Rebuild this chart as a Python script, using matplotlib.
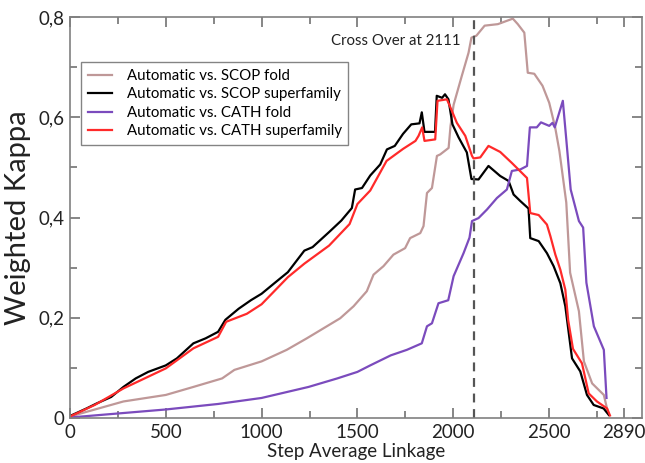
import matplotlib
matplotlib.use("Agg")
import matplotlib.pyplot as plt
from matplotlib.ticker import MultipleLocator, FixedLocator, FuncFormatter

plt.rcParams['font.family'] = ['Lato', 'DejaVu Sans']

# ---- data ----
scop_fold_x = [0, 279, 500, 644, 794, 858, 1000, 1131, 1236, 1323, 1410, 1480, 1549, 1584,
               1636, 1688, 1749, 1775, 1828, 1845, 1863, 1889, 1915, 1932, 1976, 1986, 2002,
               2045, 2080, 2095, 2121, 2164, 2233, 2311, 2337, 2371, 2389, 2423, 2466, 2501,
               2532, 2554, 2590, 2610, 2656, 2682, 2725, 2786, 2808]
scop_fold_y = [0.003, 0.033, 0.046, 0.062, 0.079, 0.096, 0.113, 0.136, 0.159, 0.179, 0.199,
               0.223, 0.253, 0.286, 0.303, 0.326, 0.339, 0.359, 0.369, 0.383, 0.449, 0.459,
               0.523, 0.526, 0.539, 0.583, 0.625, 0.683, 0.729, 0.759, 0.763, 0.783, 0.786,
               0.797, 0.786, 0.769, 0.689, 0.687, 0.663, 0.629, 0.58, 0.533, 0.43, 0.29,
               0.213, 0.113, 0.069, 0.046, 0.01]

scop_sf_x = [0, 86, 139, 215, 279, 343, 408, 500, 558, 644, 708, 773, 811, 880, 944, 1000,
             1073, 1137, 1223, 1266, 1352, 1416, 1471, 1488, 1524, 1567, 1619, 1654, 1695,
             1738, 1781, 1824, 1836, 1850, 1905, 1914, 1942, 1957, 1975, 1996, 2028, 2071,
             2095, 2132, 2184, 2245, 2289, 2315, 2350, 2393, 2402, 2446, 2489, 2524, 2559,
             2585, 2620, 2663, 2698, 2733, 2785, 2812]
scop_sf_y = [0.004, 0.019, 0.029, 0.042, 0.062, 0.079, 0.092, 0.105, 0.119, 0.149, 0.159,
             0.172, 0.196, 0.218, 0.235, 0.248, 0.271, 0.291, 0.334, 0.341, 0.371, 0.394,
             0.419, 0.456, 0.459, 0.484, 0.506, 0.536, 0.543, 0.567, 0.586, 0.588, 0.610,
             0.571, 0.571, 0.643, 0.639, 0.646, 0.636, 0.586, 0.56, 0.53, 0.477, 0.476,
             0.503, 0.483, 0.473, 0.446, 0.433, 0.418, 0.359, 0.353, 0.329, 0.303, 0.269,
             0.223, 0.119, 0.093, 0.046, 0.026, 0.019, 0.006]

cath_fold_x = [0, 500, 773, 1000, 1245, 1395, 1500, 1567, 1674, 1758, 1836, 1863, 1889, 1923,
               1974, 2002, 2054, 2085, 2098, 2132, 2176, 2228, 2280, 2306, 2350, 2385, 2400,
               2436, 2458, 2501, 2518, 2530, 2572, 2590, 2613, 2656, 2678, 2695, 2734, 2786,
               2800]
cath_fold_y = [0.001, 0.017, 0.028, 0.040, 0.062, 0.079, 0.092, 0.105, 0.125, 0.136, 0.149,
               0.183, 0.189, 0.229, 0.235, 0.283, 0.329, 0.36, 0.393, 0.399, 0.416, 0.439,
               0.456, 0.493, 0.496, 0.503, 0.58, 0.58, 0.59, 0.583, 0.589, 0.58, 0.633,
               0.556, 0.456, 0.393, 0.38, 0.27, 0.183, 0.136, 0.04]

cath_sf_x = [0, 129, 279, 500, 644, 773, 815, 923, 1000, 1137, 1223, 1352, 1459, 1500, 1567,
             1652, 1738, 1803, 1819, 1838, 1850, 1906, 1918, 1967, 1993, 2019, 2063, 2098,
             2106, 2141, 2184, 2245, 2306, 2385, 2402, 2446, 2489, 2507, 2533, 2559, 2585,
             2600, 2625, 2672, 2707, 2750, 2803, 2818]
cath_sf_y = [0.003, 0.026, 0.059, 0.099, 0.139, 0.162, 0.192, 0.208, 0.227, 0.281, 0.308,
             0.344, 0.387, 0.427, 0.454, 0.513, 0.537, 0.553, 0.563, 0.58, 0.553, 0.556,
             0.633, 0.636, 0.613, 0.589, 0.563, 0.523, 0.518, 0.52, 0.543, 0.531, 0.509,
             0.479, 0.409, 0.405, 0.386, 0.363, 0.326, 0.296, 0.256, 0.195, 0.138, 0.109,
             0.049, 0.033, 0.019, 0.005]

labels = ["Automatic vs. SCOP fold", "Automatic vs. SCOP superfamily",
          "Automatic vs. CATH fold", "Automatic vs. CATH superfamily"]
colors = ["#bf9898", "#000000", "#7b4bbd", "#ff2a2a"]

crossover = 2111
x_major = [0, 500, 1000, 1500, 2000, 2500, 2890]
x_labels = ["0", "500", "1000", "1500", "2000", "2500", "2890"]

# ---- figure ----
fig = plt.figure(figsize=(6.45, 4.63), dpi=100)
ax = fig.add_axes([0.1085, 0.0972, 0.8868, 0.8658])

series = [(scop_fold_x, scop_fold_y), (scop_sf_x, scop_sf_y),
          (cath_fold_x, cath_fold_y), (cath_sf_x, cath_sf_y)]
for (xs, ys), lab, col in zip(series, labels, colors):
    ax.plot(xs, ys, color=col, lw=1.6, label=lab)

ax.axvline(crossover, color="#555555", lw=1.6, ls=(0, (4, 3)))
ax.text(2040, 0.752, "Cross Over at 2111", ha="right", va="center",
        fontsize=10.8, color="#222222")

ax.set_xlim(0, 2985)
ax.set_ylim(0, 0.8)
ax.xaxis.set_major_locator(FixedLocator(x_major))
ax.set_xticklabels(x_labels)
ax.xaxis.set_minor_locator(MultipleLocator(250))
ax.yaxis.set_major_locator(MultipleLocator(0.2))
ax.yaxis.set_minor_locator(MultipleLocator(0.1))
ax.yaxis.set_major_formatter(FuncFormatter(
    lambda v, p: "0" if abs(v) < 1e-9 else ("%.1f" % v).replace(".", ",")))

ax.tick_params(which="both", direction="in", top=True, right=True,
               color="#666666", labelsize=13.5, labelcolor="#222222", pad=4)
ax.tick_params(which="major", length=7, width=1.1)
ax.tick_params(which="minor", length=5, width=1.1)
for s in ax.spines.values():
    s.set_color("#808080")
    s.set_linewidth(1.2)

ax.set_xlabel("Step Average Linkage", fontsize=13.5, color="#222222", labelpad=2)
ax.set_ylabel("Weighted Kappa", fontsize=21, color="#222222", labelpad=5)

leg = ax.legend(loc="upper left", bbox_to_anchor=(0.019, 0.888), fontsize=10.8,
                frameon=True, fancybox=False, edgecolor="#666666",
                handlelength=1.6, handletextpad=1.0, labelspacing=0.3,
                borderpad=0.45, borderaxespad=0)
leg.get_frame().set_linewidth(1.0)

fig.savefig("out.png", dpi=100)
